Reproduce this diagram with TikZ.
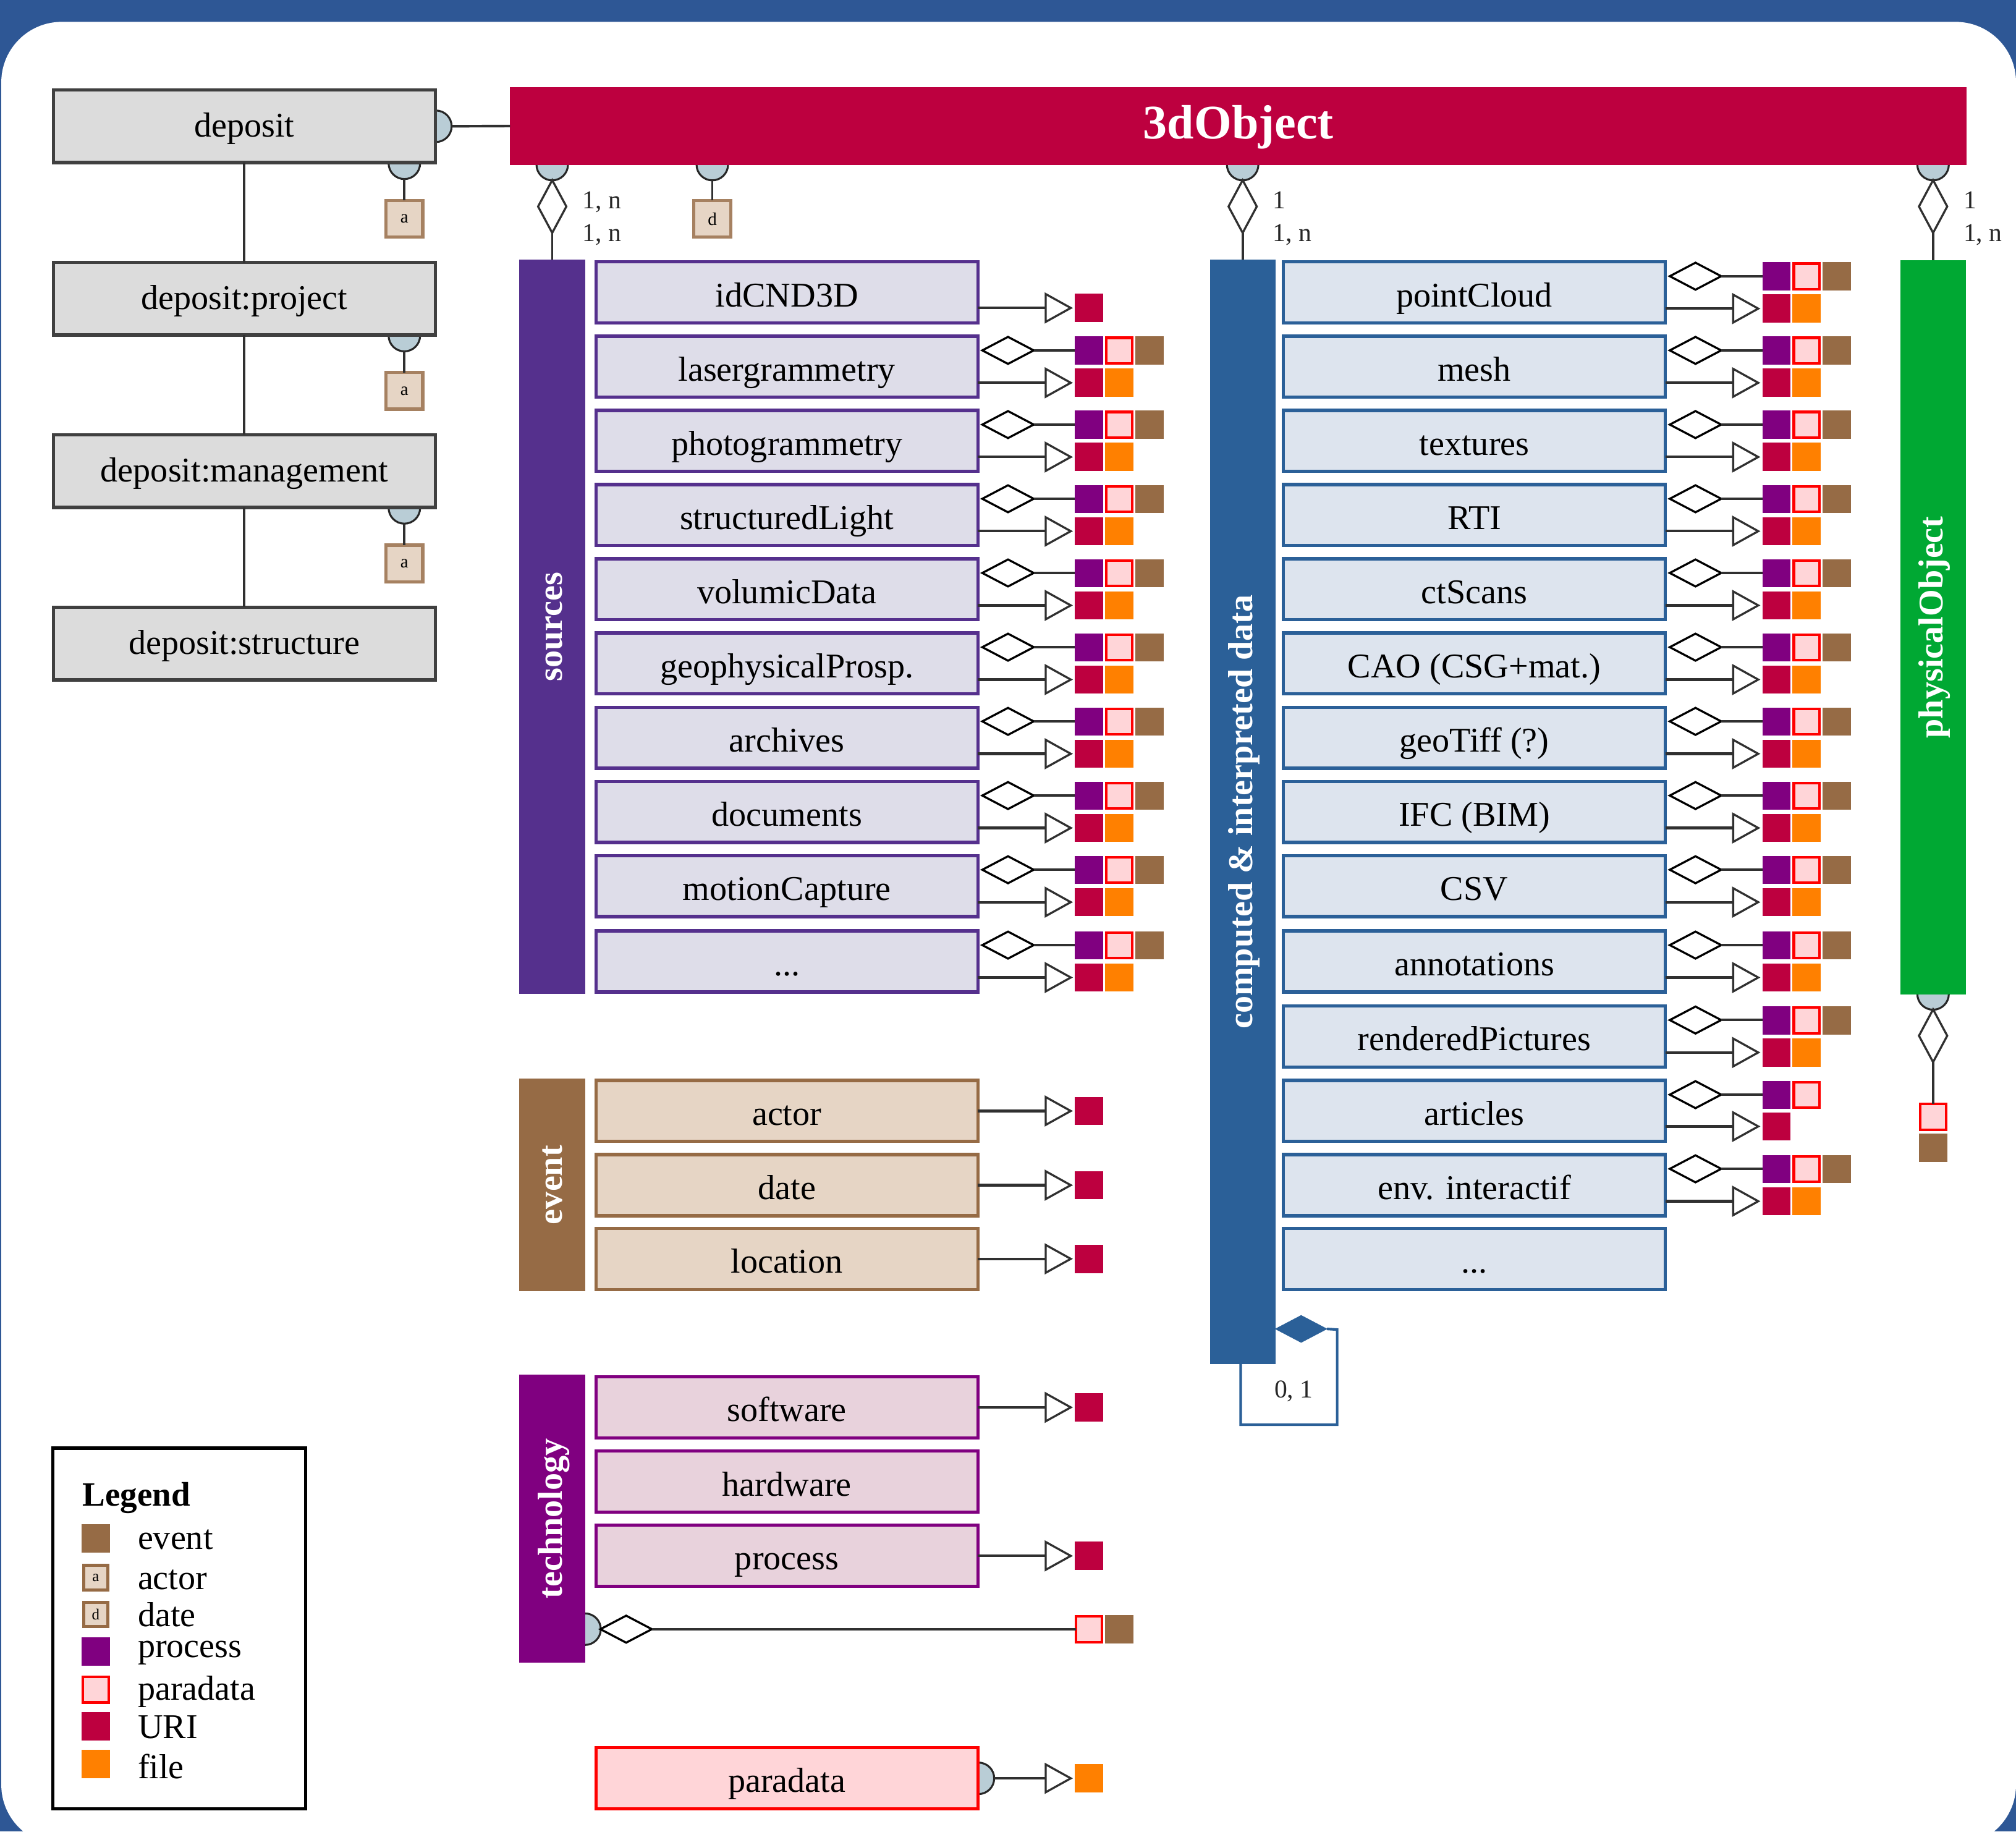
\documentclass[tikz,border=0pt]{standalone}
\usepackage{fontspec}
\setmainfont{Liberation Serif}
\usetikzlibrary{shapes.geometric,arrows.meta}
\definecolor{frameblue}{HTML}{2E5795}
\definecolor{objred}{HTML}{BD003F}
\definecolor{srcpurple}{HTML}{55308D}
\definecolor{srcfill}{HTML}{DEDDE9}
\definecolor{cblue}{HTML}{2B6098}
\definecolor{cfill}{HTML}{DDE4EE}
\definecolor{evbrown}{HTML}{966B45}
\definecolor{evfill}{HTML}{E6D5C5}
\definecolor{procpurple}{HTML}{800080}
\definecolor{techfill}{HTML}{E8D2DC}
\definecolor{physgreen}{HTML}{00A833}
\definecolor{greyfill}{HTML}{DCDCDC}
\definecolor{greyline}{HTML}{404040}
\definecolor{pinkfill}{HTML}{FFD5D8}
\definecolor{portfill}{HTML}{B9CDD6}
\definecolor{fileorange}{HTML}{FF8000}
\definecolor{linedark}{HTML}{303030}
\tikzset{
  boxbase/.style={rectangle,inner sep=0pt,outer sep=0pt,minimum width=297pt,line width=2.5pt,font=\fontsize{27}{27}\selectfont,text=black},
  depbox/.style={boxbase,draw=greyline,fill=greyfill,minimum height=56.5pt,text height=17pt,text depth=0pt},
  rowshape/.style={boxbase,minimum height=47.5pt,text height=22pt,text depth=0pt},
  srcrowbox/.style={rowshape,draw=srcpurple,fill=srcfill},
  comprowbox/.style={rowshape,draw=cblue,fill=cfill},
  evrowbox/.style={rowshape,draw=evbrown,fill=evfill},
  techrowbox/.style={rowshape,draw=procpurple,fill=techfill},
  pararowbox/.style={rowshape,draw=red,fill=pinkfill},
  barbox/.style={rectangle,rotate=90,inner sep=0pt,outer sep=0pt,minimum height=51pt,text=white,font=\fontsize{27}{27}\bfseries\selectfont,text height=15pt,text depth=0pt},
  sqbase/.style={rectangle,inner sep=0pt,outer sep=0pt,minimum width=22pt,minimum height=22pt},
  sqevent/.style={sqbase,fill=evbrown},
  sqproc/.style={sqbase,fill=procpurple},
  squri/.style={sqbase,fill=objred},
  sqfile/.style={sqbase,fill=fileorange},
  sqpara/.style={sqbase,fill=pinkfill,draw=red,line width=2pt,minimum width=20pt,minimum height=20pt},
  tagbox/.style={rectangle,inner sep=0pt,outer sep=0pt,minimum width=28.5pt,minimum height=28.5pt,draw=evbrown!85!white,fill=evfill,line width=2.5pt,font=\fontsize{14}{14}\selectfont},
  legtag/.style={rectangle,inner sep=0pt,outer sep=0pt,minimum width=19pt,minimum height=19pt,draw=evbrown,fill=evfill,line width=2.5pt,font=\fontsize{12}{12}\selectfont},
  opendia/.style={diamond,draw=black,fill=white,line width=1.6pt,inner sep=0pt,outer sep=0pt,minimum width=40pt,minimum height=21pt},
  talldia/.style={diamond,draw=linedark,fill=white,line width=1.6pt,inner sep=0pt,outer sep=0pt,minimum width=22pt,minimum height=41pt},
  portc/.style={circle,draw=black!85,fill=portfill,line width=1.5pt,inner sep=0pt,outer sep=0pt,minimum size=24.5pt},
  conn/.style={draw=linedark,line width=2pt},
  thinconn/.style={draw=linedark,line width=1.8pt},
  arrconn/.style={draw=linedark,line width=2pt,shorten >=1.5pt,-{Triangle[open,fill=white,length=22pt,width=24pt,line width=1.6pt]}},
  cardtext/.style={anchor=base west,inner sep=0pt,font=\fontsize{20}{20}\selectfont,text=black!85},
  legtext/.style={anchor=base west,inner sep=0pt,font=\fontsize{27}{27}\selectfont,text=black}
}
\newcommand{\arrowonly}[3]{% row name, left x of row, y
  \node[squri] (#1u) at (#2+384,#3) {};
  \draw[arrconn] (#1u.west -| #1.east) -- (#1u.west);
}
\newcommand{\fullrow}[5]{% name, style, left x, centre y, label
  \node[#2] (#1) at (#3+149,#4) {#5};
  \node[opendia] (#1d) at (#3+321,#4-12.7) {};
  \node[sqproc] (#1p) at (#3+384,#4-12.5) {};
  \node[sqpara] (#1q) at (#3+407.5,#4-12.5) {};
  \node[sqevent] (#1e) at (#3+431,#4-12.5) {};
  \node[squri] (#1u) at (#3+384,#4+12.5) {};
  \node[sqfile] (#1f) at (#3+407.5,#4+12.5) {};
  \draw[conn] (#1d.east) -- (#1p.west |- #1d.east);
  \draw[arrconn] (#1u.west -| #1.east) -- (#1u.west);
}
\begin{document}
\begin{tikzpicture}[x=1pt,y=-1pt]
\useasboundingbox (0,0) rectangle (1568,1424.3);
\fill[frameblue] (0,0) rectangle (1568,1424.3);
\fill[white,rounded corners=47pt] (1,17) rectangle (1568,1435);

% ports, under the boxes
\node[portc] (pdep) at (339,98.2) {};
\node[portc] (pa1) at (314.5,127) {};
\node[portc] (pa2) at (314.5,261) {};
\node[portc] (pa3) at (314.5,395) {};
\node[portc] (ps) at (429.5,128) {};
\node[portc] (pd) at (554,128) {};
\node[portc] (pc) at (966.5,128) {};
\node[portc] (pg) at (1503.5,128) {};
\node[portc] (pgb) at (1503.5,773) {};
\node[portc] (pt) at (455,1267) {};
\node[portc] (pp) at (761,1383) {};

% deposit column
\node[depbox] (dep) at (190,98.2) {deposit};
\node[depbox] (depp) at (190,232.3) {deposit:project};
\node[depbox] (depm) at (190,366.4) {deposit:management};
\node[depbox] (deps) at (190,500.5) {deposit:structure};
\draw[thinconn] (dep.south) -- (depp.north);
\draw[thinconn] (depp.south) -- (depm.north);
\draw[thinconn] (depm.south) -- (deps.north);
\node[tagbox] (ta1) at (314.5,170.2) {a};
\node[tagbox] (ta2) at (314.5,304) {a};
\node[tagbox] (ta3) at (314.5,438.2) {a};
\draw[thinconn] (pa1.south) -- (ta1.north);
\draw[thinconn] (pa2.south) -- (ta2.north);
\draw[thinconn] (pa3.south) -- (ta3.north);

% 3dObject
\node[rectangle,fill=objred,inner sep=0pt,outer sep=0pt,minimum width=1133pt,minimum height=60.4pt,text=white,font=\fontsize{37.5}{37.5}\bfseries\selectfont,text height=20pt,text depth=0pt] (obj) at (963.2,98) {3dObject};
\draw[conn] (pdep.east) -- (obj.west);

% bars
\node[barbox,fill=srcpurple,minimum width=571pt] (bsrc) at (429.5,487.5) {sources};
\node[barbox,fill=cblue,minimum width=858.8pt] (bcomp) at (966.5,631.4) {computed \& interpreted data};
\node[barbox,fill=physgreen,minimum width=571pt] (bphys) at (1503.5,487.8) {physicalObject};
\node[barbox,fill=evbrown,minimum width=165pt] (bev) at (429.5,921.5) {event};
\node[barbox,fill=procpurple,minimum width=224.3pt] (btech) at (429.5,1181) {technology};

% top links
\node[talldia] (ds) at (429.5,160.6) {};
\node[talldia] (dc) at (966.5,160.6) {};
\node[talldia] (dg) at (1503.5,160.6) {};
\draw[thinconn] (ds.south) -- (bsrc.east);
\draw[thinconn] (dc.south) -- (bcomp.east);
\draw[thinconn] (dg.south) -- (bphys.east);
\node[tagbox] (td) at (554,170.2) {d};
\draw[thinconn] (pd.south) -- (td.north);
\node[cardtext] at (453,162) {1, n};
\node[cardtext] at (453,187.5) {1, n};
\node[cardtext] at (990,162) {1};
\node[cardtext] at (990,187.5) {1, n};
\node[cardtext] at (1527,162) {1};
\node[cardtext] at (1527,187.5) {1, n};

% sources rows
\node[srcrowbox] (s0) at (612,227.5) {idCND3D};
\arrowonly{s0}{463}{239.5}
\fullrow{s1}{srcrowbox}{463}{285.2}{lasergrammetry}
\fullrow{s2}{srcrowbox}{463}{342.9}{photogrammetry}
\fullrow{s3}{srcrowbox}{463}{400.6}{structuredLight}
\fullrow{s4}{srcrowbox}{463}{458.3}{volumicData}
\fullrow{s5}{srcrowbox}{463}{516}{geophysicalProsp.}
\fullrow{s6}{srcrowbox}{463}{573.7}{archives}
\fullrow{s7}{srcrowbox}{463}{631.4}{documents}
\fullrow{s8}{srcrowbox}{463}{689.1}{motionCapture}
\fullrow{s9}{srcrowbox}{463}{747.7}{...}

% computed rows
\fullrow{c0}{comprowbox}{997.7}{227.5}{pointCloud}
\fullrow{c1}{comprowbox}{997.7}{285.2}{mesh}
\fullrow{c2}{comprowbox}{997.7}{342.9}{textures}
\fullrow{c3}{comprowbox}{997.7}{400.6}{RTI}
\fullrow{c4}{comprowbox}{997.7}{458.3}{ctScans}
\fullrow{c5}{comprowbox}{997.7}{516}{CAO (CSG+mat.)}
\fullrow{c6}{comprowbox}{997.7}{573.7}{geoTiff (?)}
\fullrow{c7}{comprowbox}{997.7}{631.4}{IFC (BIM)}
\fullrow{c8}{comprowbox}{997.7}{689.1}{CSV}
\fullrow{c9}{comprowbox}{997.7}{747.7}{annotations}
\fullrow{c10}{comprowbox}{997.7}{806}{renderedPictures}
% articles: no event and no file square
\node[comprowbox] (c11) at (1146.7,864) {articles};
\node[opendia] (c11d) at (1318.7,851.3) {};
\node[sqproc] (c11p) at (1381.7,851.5) {};
\node[sqpara] (c11q) at (1405.2,851.5) {};
\draw[conn] (c11d.east) -- (c11p.west |- c11d.east);
\arrowonly{c11}{997.7}{876}
\fullrow{c12}{comprowbox}{997.7}{921.7}{env. interactif}
\node[comprowbox] (c13) at (1146.7,979) {...};

% event rows
\node[evrowbox] (e0) at (612,864) {actor};
\node[evrowbox] (e1) at (612,921.7) {date};
\node[evrowbox] (e2) at (612,979) {location};
\arrowonly{e0}{463}{864}
\arrowonly{e1}{463}{921.7}
\arrowonly{e2}{463}{979}

% technology rows
\node[techrowbox] (t0) at (612,1094.5) {software};
\node[techrowbox] (t1) at (612,1152.3) {hardware};
\node[techrowbox] (t2) at (612,1209.8) {process};
\arrowonly{t0}{463}{1094.5}
\arrowonly{t2}{463}{1210}
\node[opendia] (td1) at (487,1267) {};
\node[sqpara] (tq) at (847,1267) {};
\node[sqevent] (te) at (870.5,1267) {};
\draw[conn] (td1.east) -- (tq.west);

% paradata row
\node[pararowbox] (pr) at (612,1382.8) {paradata};
\node[sqfile] (prf) at (847,1383) {};
\draw[arrconn] (pp.east) -- (prf.west);

% physicalObject lower link
\node[talldia] (dgb) at (1503.5,805.5) {};
\node[sqpara] (gq) at (1503.5,868.5) {};
\node[sqevent] (ge) at (1503.5,892.5) {};
\draw[thinconn] (dgb.south) -- (gq.north);

% reflexive link on computed data
\node[diamond,fill=cblue,draw=cblue,inner sep=0pt,outer sep=0pt,minimum width=40pt,minimum height=21pt] (loopd) at (1012,1033.5) {};
\coordinate (l1) at (1040,1034);
\coordinate (l2) at (1040,1108);
\coordinate (l3) at (965,1108);
\draw[draw=cblue,line width=2pt] (loopd.east) -- (l1) -- (l2) -- (l3) -- (bcomp.west -| l3);
\node[cardtext] at (991,1087) {0, 1};

% legend
\node[rectangle,draw=black,fill=white,line width=2.5pt,inner sep=0pt,outer sep=0pt,minimum width=196.5pt,minimum height=280.5pt,anchor=north west] (legend) at (41.2,1126.2) {};
\node[anchor=base west,inner sep=0pt,font=\fontsize{26.5}{26.5}\bfseries\selectfont] at (64,1171) {Legend};
\node[sqevent] (l-ev) at (74.5,1196.5) {};
\node[legtag] (l-ac) at (74.5,1227) {a};
\node[legtag] (l-da) at (74.5,1255.5) {d};
\node[sqproc] (l-pr) at (74.5,1284.5) {};
\node[sqpara] (l-pa) at (74.5,1314) {};
\node[squri] (l-ur) at (74.5,1342.5) {};
\node[sqfile] (l-fi) at (74.5,1372) {};
\node[legtext] at (107,1205) {event};
\node[legtext] at (107,1236) {actor};
\node[legtext] at (107,1265) {date};
\node[legtext] at (107,1289) {process};
\node[legtext] at (107,1322) {paradata};
\node[legtext] at (107,1352) {URI};
\node[legtext] at (107,1383) {file};
\end{tikzpicture}
\end{document}
